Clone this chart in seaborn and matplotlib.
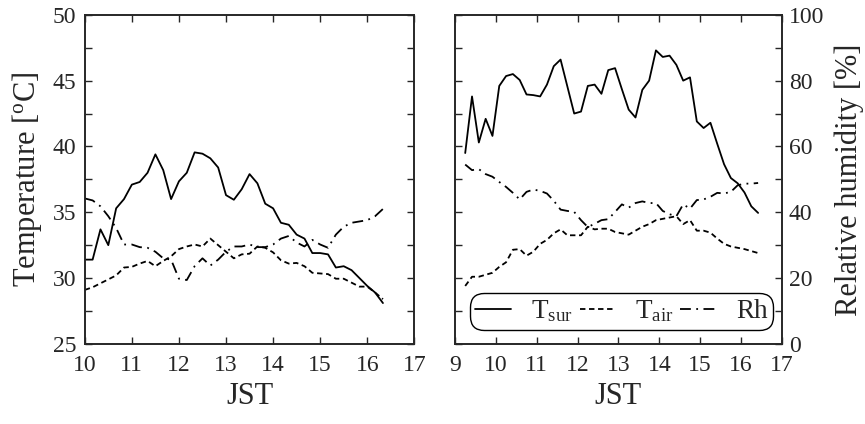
import numpy as np
import pandas as pd
import seaborn as sns
import matplotlib.pyplot as plt
from matplotlib.ticker import MultipleLocator

# Datos (intervalos de 10 min)
# Panel izquierdo: 10:00 - 16:20
hora_izq = np.arange(39) / 6 + 10.0
tsur_izq = [31.4, 31.4, 33.7, 32.5, 35.3, 36.0, 37.1, 37.3, 38.0, 39.4,
            38.2, 36.0, 37.35, 38.0, 39.55, 39.45, 39.1, 38.4, 36.3, 35.95,
            36.75, 37.9, 37.2, 35.65, 35.3, 34.2, 34.05, 33.3, 33.0, 31.9,
            31.9, 31.8, 30.8, 30.9, 30.6, 30.0, 29.4, 28.9, 28.1]
tair_izq = [29.1, 29.3, 29.6, 29.9, 30.2, 30.8, 30.85, 31.1, 31.3, 30.9,
            31.3, 31.65, 32.2, 32.4, 32.55, 32.4, 33.0, 32.5, 32.0, 31.5,
            31.8, 31.85, 32.4, 32.3, 31.95, 31.35, 31.1, 31.15, 30.9, 30.4,
            30.35, 30.3, 29.95, 29.95, 29.65, 29.35, 29.35, 28.9, 28.4]
rh_izq = [44.2, 43.6, 41.8, 38.8, 35.2, 30.2, 30.2, 29.4, 29.2, 28.0,
          26.0, 25.6, 19.8, 19.4, 23.6, 26.0, 23.8, 25.6, 28.0, 29.6,
          29.6, 30.2, 29.4, 29.4, 30.2, 32.0, 32.8, 30.8, 29.6, 31.6,
          30.2, 29.2, 33.2, 35.6, 36.8, 37.2, 37.6, 38.8, 41.0]

# Panel derecho: 9:15 - 16:25
hora_der = np.arange(44) / 6 + 9.25
tsur_der = [39.5, 43.8, 40.3, 42.1, 40.8, 44.6, 45.35, 45.5, 45.05, 43.95,
            43.9, 43.8, 44.7, 46.1, 46.6, 44.55, 42.5, 42.65, 44.6, 44.7,
            44.0, 45.8, 45.95, 44.35, 42.8, 42.2, 44.3, 45.0, 47.3, 46.8,
            46.9, 46.2, 45.0, 45.25, 41.9, 41.4, 41.8, 40.2, 38.65, 37.6,
            37.2, 36.5, 35.45, 34.95]
tair_der = [29.4, 30.1, 30.1, 30.25, 30.4, 30.85, 31.2, 32.15, 32.2, 31.7,
            32.0, 32.6, 32.9, 33.4, 33.7, 33.25, 33.25, 33.25, 33.9, 33.7,
            33.75, 33.75, 33.5, 33.4, 33.3, 33.6, 33.9, 34.1, 34.4, 34.5,
            34.6, 34.7, 34.1, 34.4, 33.6, 33.6, 33.45, 33.0, 32.6, 32.4,
            32.3, 32.2, 32.05, 31.9]
rh_der = [54.5, 52.8, 53.1, 51.6, 50.8, 49.2, 47.7, 45.9, 43.9, 46.2,
          46.9, 46.5, 45.7, 43.5, 40.8, 40.4, 40.1, 37.6, 35.5, 36.5,
          37.6, 37.9, 40.1, 42.4, 41.4, 42.8, 43.3, 42.8, 42.8, 40.4,
          39.4, 38.8, 42.4, 41.1, 43.7, 43.9, 44.7, 45.9, 45.7, 46.2,
          48.2, 48.7, 48.7, 48.9]

sns.set_style("ticks")
plt.rcParams['font.family'] = ['Liberation Serif', 'DejaVu Serif']
plt.rcParams['mathtext.fontset'] = 'custom'
plt.rcParams['mathtext.rm'] = 'Liberation Serif'
plt.rcParams['mathtext.it'] = 'Liberation Serif:italic'

fig = plt.figure(figsize=(8.65, 4.24), dpi=100)
ax1 = fig.add_axes([0.098, 0.189, 0.381, 0.776])
ax2 = fig.add_axes([0.526, 0.189, 0.378, 0.776])

estilo_sur = dict(color='black', linewidth=1.3, linestyle='-')
estilo_air = dict(color='black', linewidth=1.3, linestyle=(0, (3, 2)))
estilo_rh = dict(color='black', linewidth=1.3, linestyle=(0, (6, 3, 1, 3)))


def panel(ax, hora, tsur, tair, rh, xmin):
    df = pd.DataFrame({'hora': hora, 'tsur': tsur, 'tair': tair, 'rh': rh})
    sns.lineplot(data=df, x='hora', y='tsur', ax=ax, label=r'T$_{\rm sur}$', **estilo_sur)
    sns.lineplot(data=df, x='hora', y='tair', ax=ax, label=r'T$_{\rm air}$', **estilo_air)
    axr = ax.twinx()
    sns.lineplot(data=df, x='hora', y='rh', ax=axr, label='Rh', **estilo_rh)
    ax.set_xlim(xmin, 17)
    ax.set_ylim(25, 50)
    axr.set_ylim(0, 100)
    ax.xaxis.set_major_locator(MultipleLocator(1))
    ax.yaxis.set_major_locator(MultipleLocator(5))
    ax.yaxis.set_minor_locator(MultipleLocator(2.5))
    axr.yaxis.set_major_locator(MultipleLocator(20))
    axr.yaxis.set_minor_locator(MultipleLocator(10))
    for a in (ax, axr):
        a.tick_params(which='both', direction='in', length=5, width=1,
                      top=True, labelsize=17)
        for s in a.spines.values():
            s.set_linewidth(1.2)
    ax.tick_params(axis='x', pad=8)
    ax.tick_params(axis='y', pad=6)
    axr.tick_params(axis='y', pad=5)
    ax.tick_params(which='both', right=False)
    ax.set_xlabel('JST', fontsize=22, labelpad=4)
    ax.set_ylabel('')
    axr.set_ylabel('')
    return axr


axr1 = panel(ax1, hora_izq, tsur_izq, tair_izq, rh_izq, 10)
axr2 = panel(ax2, hora_der, tsur_der, tair_der, rh_der, 9)

ax1.set_ylabel(r'Temperature [$^{\rm o}$C]', fontsize=22, labelpad=6)
axr1.tick_params(labelright=False)
ax1.get_legend().remove()
axr1.get_legend().remove()

ax2.tick_params(labelleft=False, left=True)
axr2.set_ylabel('Relative humidity [%]', fontsize=22, labelpad=7)

h1, l1 = ax2.get_legend_handles_labels()
h2, l2 = axr2.get_legend_handles_labels()
ax2.get_legend().remove()
axr2.get_legend().remove()
leg = axr2.legend(h1 + h2, l1 + l2, loc='lower left', ncol=3, fontsize=19.5,
                  frameon=True, fancybox=True, edgecolor='black',
                  handlelength=1.3, handletextpad=0.75, columnspacing=0.25,
                  borderpad=0.2, borderaxespad=0,
                  bbox_to_anchor=(0.046, 0.043))
leg.get_frame().set_linewidth(1.0)
leg.get_frame().set_alpha(1)
leg.get_frame().set_boxstyle('round', pad=0, rounding_size=0.5)

fig.savefig('out.png', dpi=100)
